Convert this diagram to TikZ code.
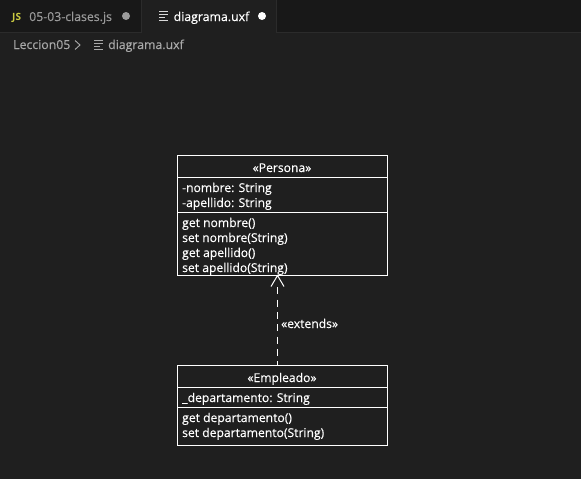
\documentclass[tikz,border=0pt]{standalone}
\usepackage{fontspec}
\setmainfont{Open Sans}
\newfontfamily\heavier[FakeBold=0.25]{Open Sans}
\usetikzlibrary{arrows.meta,calc}
\definecolor{bgc}{HTML}{1F1F1F}
\definecolor{barc}{HTML}{181818}
\definecolor{edgec}{HTML}{2B2B2B}
\definecolor{mutedc}{HTML}{9A9A9A}
\definecolor{crumbc}{HTML}{A9A9A9}
\definecolor{jsc}{HTML}{CBCB41}
\tikzset{
  umlbox/.style={draw=white,line width=1pt,fill=bgc,minimum width=210pt,inner sep=0pt,outer sep=0pt},
  member/.style={text=white,anchor=base west,inner sep=0pt,font=\heavier\fontsize{12.15}{14}\selectfont},
  title/.style={text=white,anchor=base,inner sep=0pt,font=\heavier\fontsize{12.15}{14}\selectfont},
  divider/.style={draw=white,line width=1pt},
  tabtext/.style={anchor=base west,inner sep=0pt,font=\heavier\fontsize{12.3}{14}\selectfont},
  dot/.style={circle,minimum size=8pt,inner sep=0pt},
  realize/.style={draw=white,line width=1pt,dash pattern=on 7pt off 5.3pt},
  openhead/.style={draw=white,line width=1pt},
}
\begin{document}
\begin{tikzpicture}[x=1pt,y=-1pt]
\useasboundingbox (0,0) rectangle (581,479);
\fill[bgc] (0,0) rectangle (581,479);
% tab bar
\fill[barc] (0,0) rectangle (581,32);
\fill[bgc] (142,0) rectangle (276,33);
\draw[edgec,line width=.8pt] (0,32.5) -- (142,32.5);
\draw[edgec,line width=.8pt] (276,32.5) -- (581,32.5);
\draw[edgec,line width=.8pt] (141.5,0) -- (141.5,32);
\draw[edgec,line width=.8pt] (276.5,0) -- (276.5,32);
\node[anchor=base west,inner sep=0pt,text=jsc,font=\fontsize{10}{12}\bfseries\selectfont] (jsicon) at (12,20) {JS};
\node[tabtext,text=mutedc] (tab1) at (29,21) {05-03-clases.js};
\node[dot,fill=mutedc] (dot1) at (126,16) {};
% file icon, active tab
\foreach \y/\w in {11.5/9,14.5/9,17.5/6,20.5/9}
  \draw[white!85!black,line width=1pt] (159,\y) -- ++(\w,0);
\node[tabtext,text=white] (tab2) at (173.5,21) {diagrama.uxf};
\node[dot,fill=white] (dot2) at (262,16) {};
% breadcrumb
\node[tabtext,text=crumbc] (crumb1) at (13,49) {Leccion05};
\draw[crumbc,line width=.9pt] (75,40.5) -- (80,45) -- (75,49.5);
\foreach \y/\w in {40.5/9,43.5/9,46.5/6,49.5/9}
  \draw[crumbc,line width=1pt] (94,\y) -- ++(\w,0);
\node[tabtext,text=crumbc] (crumb2) at (108,49) {diagrama.uxf};
% Persona
\node[umlbox,minimum height=120pt] (persona) at (282.5,215.5) {};
\draw[divider] (persona.west |- 0,177.5) -- (persona.east |- 0,177.5);
\draw[divider] (persona.west |- 0,212.5) -- (persona.east |- 0,212.5);
\node[title] (ptitle) at (282,172) {«Persona»};
\node[member] (p1) at (182,192) {-nombre: String};
\node[member] (p2) at (182,207) {-apellido: String};
\node[member] (p3) at (182,227) {get nombre()};
\node[member] (p4) at (182,242) {set nombre(String)};
\node[member] (p5) at (182,257) {get apellido()};
\node[member] (p6) at (182,272) {set apellido(String)};
% Empleado
\node[umlbox,minimum height=80pt] (empleado) at (282.5,405.5) {};
\draw[divider] (empleado.west |- 0,387.5) -- (empleado.east |- 0,387.5);
\draw[divider] (empleado.west |- 0,407.5) -- (empleado.east |- 0,407.5);
\node[title] (etitle) at (282,382) {«Empleado»};
\node[member] (e1) at (182,402) {\_departamento: String};
\node[member] (e2) at (182,422) {get departamento()};
\node[member] (e3) at (182,437) {set departamento(String)};
% connector
\coordinate (tipc) at (277.5,275.5);
\coordinate (shaftc) at (277.5,287.3);
\coordinate (startc) at (277.5,365);
\draw[realize] (shaftc) -- (startc);
\draw[openhead] (271,286.5) -- (tipc) -- (284,286.5);
\node[member] (extlabel) at (281,328) {«extends»};
\end{tikzpicture}
\end{document}
